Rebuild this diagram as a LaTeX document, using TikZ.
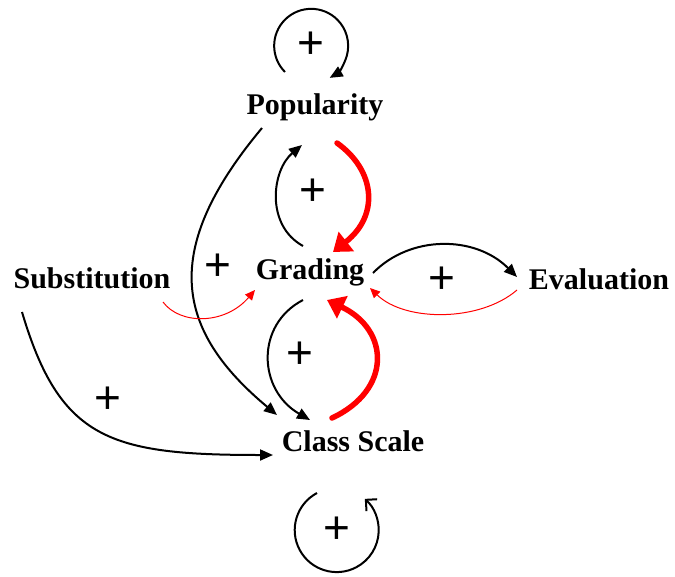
\documentclass[tikz,border=0pt]{standalone}
\usepackage{fontspec}
\setmainfont{Liberation Serif}
\newfontfamily\plusfont{Liberation Sans}
\usetikzlibrary{arrows.meta}
\tikzset{
  lbl/.style={inner sep=0pt, font=\bfseries\fontsize{30}{34}\selectfont},
  pls/.style={inner sep=0pt, font=\plusfont\fontsize{46}{46}\selectfont},
  blk/.style={draw=black, line width=2pt, -{Triangle[length=13pt,width=11pt]}},
  rthin/.style={draw=red, line width=1pt, -{Triangle[length=10pt,width=9pt]}},
  rthick/.style={draw=red, line width=5.5pt, line cap=round, -{Triangle[length=17pt,width=24pt]}},
}
\begin{document}
\begin{tikzpicture}[x=1pt,y=-1pt]
\useasboundingbox (0,0) rectangle (675,576);
% nodes
\node[lbl] (pop) at (315,107) {Popularity};
\node[lbl] (grad) at (310,272) {Grading};
\node[lbl] (sub) at (92,278) {Substitution};
\node[lbl] (eval) at (599,279) {Evaluation};
\node[lbl] (cls) at (353,441) {Class Scale};
% plus signs
\node[pls] (p1) at (311,45) {+};
\node[pls] (p2) at (313,192) {+};
\node[pls] (p3) at (218,267) {+};
\node[pls] (p4) at (442,280) {+};
\node[pls] (p5) at (300,355) {+};
\node[pls] (p6) at (108,400) {+};
\node[pls] (p7) at (337,530) {+};
% loops
\draw[line width=2pt, -{Triangle[length=13pt,width=11pt]}]
  ([shift={(-26,27)}]p1.center) arc[start angle=135, end angle=420, radius=37];
\draw[line width=2pt, -{Straight Barb[length=8pt,width=16pt]}]
  ([shift={(-20,-37)}]p7.center) arc[start angle=242, end angle=-48, radius=42];
% Grading <-> Popularity
\draw[blk] ([shift={(-7,-26)}]grad.center) .. controls (265,225) and (272,170) .. ([shift={(-13,38)}]pop.center);
\draw[rthick] ([shift={(22,36)}]pop.center) .. controls (375,170) and (380,215) .. ([shift={(23,-20)}]grad.center);
% Grading <-> Class Scale
\draw[blk] ([shift={(-7,28)}]grad.center) .. controls (255,325) and (258,390) .. ([shift={(-43,-21)}]cls.center);
\draw[rthick] ([shift={(-21,-23)}]cls.center) .. controls (392,390) and (390,330) .. ([shift={(17,28)}]grad.center);
% Popularity -> Class Scale
\draw[blk] ([shift={(-53,21)}]pop.center) .. controls (160,250) and (175,330) .. ([shift={(-76,-26)}]cls.center);
% Substitution -> Class Scale
\draw[blk] ([shift={(-70,34)}]sub.center) .. controls (60,440) and (110,455) .. ([shift={(-80,14)}]cls.center);
% Substitution -> Grading
\draw[rthin] ([shift={(71,24)}]sub.center) .. controls (180,325) and (225,325) .. ([shift={(-55,18)}]grad.center);
% Grading <-> Evaluation
\draw[blk] ([shift={(63,1)}]grad.center) .. controls (410,235) and (475,235) .. ([shift={(-82,-2)}]eval.center);
\draw[rthin] ([shift={(-82,11)}]eval.center) .. controls (480,322) and (405,322) .. ([shift={(60,16)}]grad.center);
\end{tikzpicture}
\end{document}
